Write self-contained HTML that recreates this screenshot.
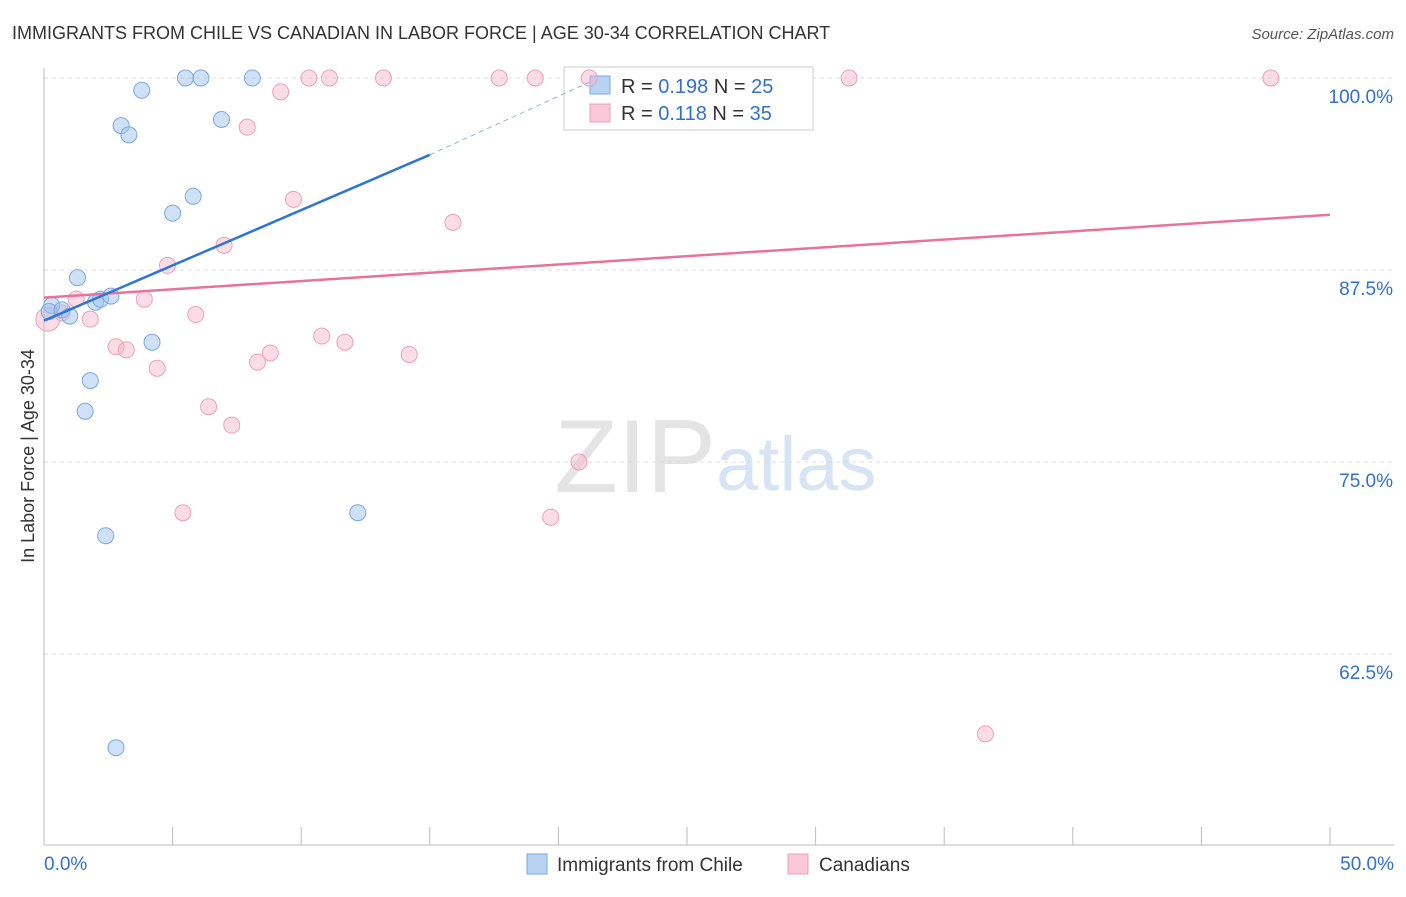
<!DOCTYPE html>
<html><head><meta charset="utf-8"><style>
body{margin:0;background:#fff;font-family:"Liberation Sans",sans-serif;}
svg text{font-family:"Liberation Sans",sans-serif;}
</style></head><body>
<svg width="1406" height="892" xmlns="http://www.w3.org/2000/svg" id="chart">
<text x="12" y="39" font-size="18" fill="#333">IMMIGRANTS FROM CHILE VS CANADIAN IN LABOR FORCE | AGE 30-34 CORRELATION CHART</text>
<text x="1394" y="39" font-size="15" fill="#555" text-anchor="end" font-style="italic">Source: ZipAtlas.com</text>
<text x="716" y="492" font-size="104" fill="#e4e4e4" text-anchor="end" font-family="Liberation Serif">ZIP</text>
<text x="716" y="490" font-size="76" fill="#d6e4f4">atlas</text>
<text transform="translate(34,456) rotate(-90)" font-size="18" fill="#333" text-anchor="middle">In Labor Force | Age 30-34</text>
<g id="grid"></g>
<g>
<rect x="564" y="67" width="249" height="63" fill="#fff" stroke="#ccc"/>
<rect x="590" y="76" width="20" height="18" fill="#b8d2f4" stroke="#7aa8e0"/>
<text x="621" y="93" font-size="20" fill="#333">R = <tspan fill="#3370cc">0.198</tspan>   N = <tspan fill="#3370cc">25</tspan></text>
<rect x="590" y="104" width="20" height="18" fill="#fac8d6" stroke="#eda0b8"/>
<text x="621" y="120" font-size="20" fill="#333">R =  <tspan fill="#3370cc">0.118</tspan>   N = <tspan fill="#3370cc">35</tspan></text>
</g>
<g id="marks"></g>
<g>
<rect x="527" y="854" width="20" height="20" fill="#b8d2f4" stroke="#7aa8e0"/>
<text x="557" y="871" font-size="19" fill="#333">Immigrants from Chile</text>
<rect x="788" y="854" width="20" height="20" fill="#fac8d6" stroke="#eda0b8"/>
<text x="819" y="871" font-size="19" fill="#333">Canadians</text>
</g>
</svg>
<script>
const xTicks=[0,50];
const yTicks=[62.5,75,87.5,100];
const chileX=[0.3,0.2,0.7,1.0,1.3,2.0,2.2,2.6,1.8,1.6,2.4,2.8,3.8,3.0,3.3,4.2,5.0,5.5,6.1,5.8,6.9,8.1,12.2];
const chileY=[85.2,84.8,84.9,84.5,87.0,85.4,85.6,85.8,80.3,78.3,70.2,56.4,99.2,96.9,96.3,82.8,91.2,100,100,92.3,97.3,100,71.7];
const canX=[0.15,0.7,1.25,1.8,2.8,3.2,3.9,4.4,4.8,5.4,5.9,6.4,7.0,7.3,7.9,8.3,8.8,9.2,9.7,10.3,10.8,11.1,11.7,13.2,14.2,15.9,17.7,19.1,19.7,20.8,21.2,31.3,36.6,47.7];
const canY=[84.3,84.7,85.6,84.3,82.5,82.3,85.6,81.1,87.8,71.7,84.6,78.6,89.1,77.4,96.8,81.5,82.1,99.1,92.1,100,83.2,100,82.8,100,82.0,90.6,100,100,71.4,75.0,100,100,57.3,100];
const chileLine=[0,84.2,15,95.0];const chileDash=[15,95.0,21.3,99.8];
const canLine=[0,85.7,50,91.1];
const X=v=>44+v/50*1286, Y=v=>78+(100-v)*15.36;
const NS="http://www.w3.org/2000/svg";
function mk(p,t,a){const e=document.createElementNS(NS,t);for(const k in a)e.setAttribute(k,a[k]);p.appendChild(e);return e;}
const g=document.getElementById('grid'),m=document.getElementById('marks');
yTicks.forEach(v=>{const l=mk(g,'line',{x1:44,x2:1394,y1:Y(v),y2:Y(v),stroke:'#ddd','stroke-dasharray':'4,4'});


const t=mk(g,'text',{x:1393,y:Y(v)+25,'font-size':19,fill:'#3370cc','text-anchor':'end'});t.textContent=v.toFixed(1)+'%';

});
mk(g,'line',{x1:44,x2:44,y1:68,y2:845,stroke:'#bbb'});
mk(g,'line',{x1:44,x2:1394,y1:845,y2:845,stroke:'#bbb'});
for(let i=0;i<=10;i++){mk(g,'line',{x1:X(i*5),x2:X(i*5),y1:827,y2:845,stroke:'#bbb'});}
xTicks.forEach((v,i)=>{const t=mk(g,'text',{x:i?1394:44,y:870,'font-size':19,fill:'#3370cc','text-anchor':i?'end':'start'});t.textContent=v.toFixed(1)+'%';

});
canX.forEach((x,i)=>{const c=mk(m,'circle',{cx:X(x),cy:Y(canY[i]),r:i==0?12:8,fill:'rgba(248,180,200,0.45)',stroke:'#eda0b8'});

});
chileX.forEach((x,i)=>{const c=mk(m,'circle',{cx:X(x),cy:Y(chileY[i]),r:8,fill:'rgba(160,196,240,0.5)',stroke:'#7aa8e0'});

});
let l=mk(m,'line',{x1:X(canLine[0]),y1:Y(canLine[1]),x2:X(canLine[2]),y2:Y(canLine[3]),stroke:'#e8739a','stroke-width':2.5});


l=mk(m,'line',{x1:X(chileLine[0]),y1:Y(chileLine[1]),x2:X(chileLine[2]),y2:Y(chileLine[3]),stroke:'#2f74d6','stroke-width':2.5});


l=mk(m,'line',{x1:X(chileDash[0]),y1:Y(chileDash[1]),x2:X(chileDash[2]),y2:Y(chileDash[3]),stroke:'#8fb3e6','stroke-width':1,'stroke-dasharray':'5,4'});


</script>
</body></html>
